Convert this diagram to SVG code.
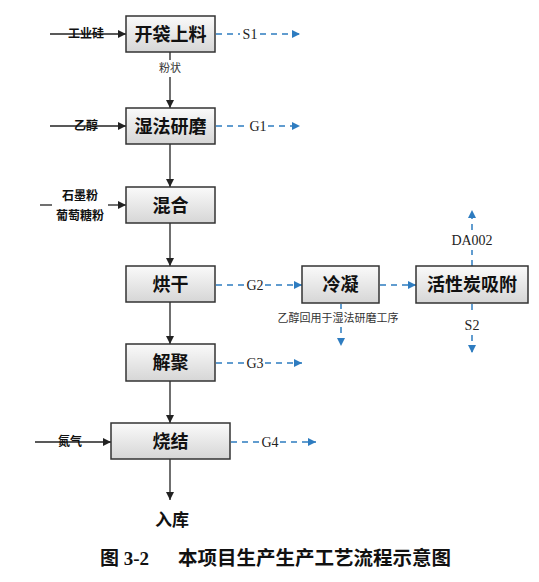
<svg xmlns="http://www.w3.org/2000/svg" width="539" height="582" viewBox="0 0 539 582">
<defs>
<linearGradient id="g" x1="0" y1="0" x2="0" y2="1">
<stop offset="0" stop-color="#fafafa"/>
<stop offset="1" stop-color="#d6d6d6"/>
</linearGradient>
<marker id="ab" viewBox="0 0 10 10" refX="10" refY="5" markerWidth="8" markerHeight="8" markerUnits="userSpaceOnUse" orient="auto">
<path d="M0,0 L10,5 L0,10 Z" fill="#222"/>
</marker>
<marker id="abl" viewBox="0 0 10 10" refX="10" refY="5" markerWidth="8" markerHeight="8" markerUnits="userSpaceOnUse" orient="auto">
<path d="M0,0 L10,5 L0,10 Z" fill="#2e7cc0"/>
</marker>
</defs>
<style>
.box{fill:url(#g);stroke:#333;stroke-width:1.5}
.sh{fill:#bbb}
.bt{font-family:"Noto Sans CJK SC",sans-serif;font-size:18px;font-weight:bold;fill:#111;text-anchor:middle}
.ln{stroke:#222;stroke-width:1.3;fill:none}
.dl{stroke:#2e7cc0;stroke-width:1.5;fill:none;stroke-dasharray:6,5}
.lt{font-family:"Noto Sans CJK SC",sans-serif;font-size:12px;font-weight:bold;fill:#111;text-anchor:middle}
.st{font-family:"Noto Sans CJK SC",sans-serif;font-size:11px;fill:#333;text-anchor:middle}
.rt{font-family:"Liberation Serif",serif;font-size:14px;fill:#222;text-anchor:middle}
.cap{font-family:"Liberation Serif","Noto Sans CJK SC",serif;font-size:19px;font-weight:bold;fill:#111}
</style>
<rect width="539" height="582" fill="#fff"/>

<g id="connectors">
<!-- inputs -->
<line class="ln" x1="50" y1="34" x2="126" y2="34" marker-end="url(#ab)"/>
<line class="ln" x1="50" y1="126" x2="126" y2="126" marker-end="url(#ab)"/>
<line class="ln" x1="40" y1="205" x2="52" y2="205"/>
<line class="ln" x1="108" y1="205" x2="126" y2="205" marker-end="url(#ab)"/>
<line class="ln" x1="35" y1="442" x2="111" y2="442" marker-end="url(#ab)"/>
<!-- main vertical -->
<line class="ln" x1="170" y1="52" x2="170" y2="60"/>
<line class="ln" x1="170" y1="77" x2="170" y2="108" marker-end="url(#ab)"/>
<line class="ln" x1="170" y1="144" x2="170" y2="187" marker-end="url(#ab)"/>
<line class="ln" x1="170" y1="223" x2="170" y2="266" marker-end="url(#ab)"/>
<line class="ln" x1="170" y1="302" x2="170" y2="344" marker-end="url(#ab)"/>
<line class="ln" x1="170" y1="381" x2="170" y2="423" marker-end="url(#ab)"/>
<line class="ln" x1="170" y1="459" x2="170" y2="500" marker-end="url(#ab)"/>
<!-- dashed outputs -->
<line class="dl" x1="216" y1="34" x2="240" y2="34"/>
<line class="dl" x1="260" y1="34" x2="300" y2="34" marker-end="url(#abl)"/>
<line class="dl" x1="216" y1="126" x2="248" y2="126"/>
<line class="dl" x1="268" y1="126" x2="300" y2="126" marker-end="url(#abl)"/>
<line class="dl" x1="216" y1="285" x2="245" y2="285"/>
<line class="dl" x1="265" y1="285" x2="302" y2="285" marker-end="url(#abl)"/>
<line class="dl" x1="216" y1="363" x2="245" y2="363"/>
<line class="dl" x1="265" y1="363" x2="302" y2="363" marker-end="url(#abl)"/>
<line class="dl" x1="231" y1="442" x2="261" y2="442"/>
<line class="dl" x1="280" y1="442" x2="316" y2="442" marker-end="url(#abl)"/>
<line class="dl" x1="380" y1="285" x2="416" y2="285" marker-end="url(#abl)"/>
<line class="dl" x1="341" y1="304" x2="341" y2="309"/>
<line class="dl" x1="341" y1="327" x2="341" y2="346" marker-end="url(#abl)"/>
<line class="dl" x1="472" y1="266" x2="472" y2="250"/>
<line class="dl" x1="472" y1="230" x2="472" y2="210" marker-end="url(#abl)"/>
<line class="dl" x1="472" y1="304" x2="472" y2="315"/>
<line class="dl" x1="472" y1="335" x2="472" y2="353" marker-end="url(#abl)"/>
</g>

<g id="n1"><rect class="box" x="126" y="16" width="89" height="36"/><text class="bt" x="170.5" y="40.5">开袋上料</text></g>
<g id="n2"><rect class="box" x="126" y="108" width="89" height="36"/><text class="bt" x="170.5" y="132.5">湿法研磨</text></g>
<g id="n3"><rect class="box" x="126" y="187" width="89" height="36"/><text class="bt" x="170.5" y="211.5">混合</text></g>
<g id="n4"><rect class="box" x="126" y="266" width="89" height="36"/><text class="bt" x="170.5" y="290.5">烘干</text></g>
<g id="n5"><rect class="box" x="126" y="344" width="89" height="37"/><text class="bt" x="170.5" y="369">解聚</text></g>
<g id="n6"><rect class="box" x="111" y="423" width="119" height="36"/><text class="bt" x="170.5" y="447.5">烧结</text></g>
<g id="n7"><rect class="box" x="302" y="266" width="77" height="37"/><text class="bt" x="340.5" y="291">冷凝</text></g>
<g id="n8"><rect class="box" x="416" y="266" width="112" height="37"/><text class="bt" x="472" y="291">活性炭吸附</text></g>

<g id="labels">
<text class="lt" x="86" y="38">工业硅</text>
<text class="lt" x="86" y="130">乙醇</text>
<text class="lt" x="80" y="200">石墨粉</text>
<text class="lt" x="80" y="220">葡萄糖粉</text>
<text class="lt" x="70" y="446">氮气</text>
<text class="st" x="170" y="72">粉状</text>
<text class="rt" x="250" y="39">S1</text>
<text class="rt" x="258" y="131">G1</text>
<text class="rt" x="255" y="290">G2</text>
<text class="rt" x="255" y="368">G3</text>
<text class="rt" x="270" y="447">G4</text>
<text class="rt" x="472" y="245">DA002</text>
<text class="rt" x="472" y="330">S2</text>
<text class="st" x="338" y="322">乙醇回用于湿法研磨工序</text>
<text class="bt" x="172" y="526" style="font-size:17px">入库</text>
<text class="cap" x="100" y="565">图 3-2</text>
<text class="cap" x="178" y="565" style="font-family:'Noto Sans CJK SC',sans-serif;font-size:19.5px">本项目生产生产工艺流程示意图</text>
</g>
</svg>
